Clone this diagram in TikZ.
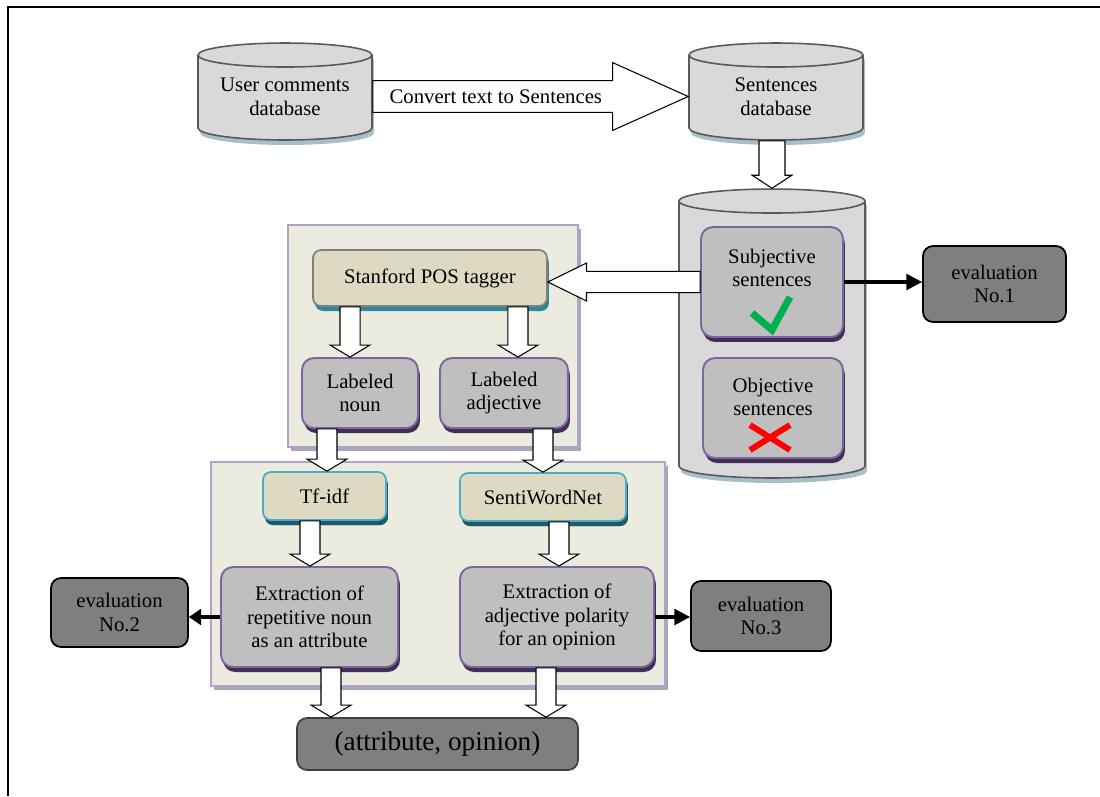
\documentclass[tikz,border=0pt]{standalone}
\usepackage{fontspec}
\setmainfont{Liberation Serif}
\usetikzlibrary{shapes.geometric,shadows,arrows.meta,calc}

\definecolor{dbfill}{HTML}{D9D9D9}
\definecolor{dbline}{HTML}{595959}
\definecolor{dbshadow}{HTML}{A6BFC8}
\definecolor{boxfill}{HTML}{BFBFBF}
\definecolor{boxline}{HTML}{8064A2}
\definecolor{boxshadow}{HTML}{403152}
\definecolor{evalfill}{HTML}{7F7F7F}
\definecolor{panelfill}{HTML}{EBEBE0}
\definecolor{panelline}{HTML}{B3A2C7}
\definecolor{panelshadow}{HTML}{ABA5BC}
\definecolor{tagfill}{HTML}{DDD9C3}
\definecolor{tagshadow}{HTML}{31859C}
\definecolor{toolline}{HTML}{4BACC6}
\definecolor{toolshadow}{HTML}{215968}
\definecolor{okgreen}{HTML}{00B050}
\definecolor{nored}{HTML}{FF0000}

\newcommand\mainsize{\fontsize{11.8}{13.5}\selectfont}

% hollow block arrow: from, to, half shaft, half head, head length
\newcommand\blockarrow[5]{%
  \coordinate (baS) at (#1);
  \coordinate (baT) at (#2);
  \coordinate (baH) at ($(baT)!#5!(baS)$);
  \filldraw[hollow] ($(baS)!#3!90:(baT)$) -- ($(baH)!#3!90:(baT)$)
    -- ($(baH)!#4!90:(baT)$) -- (baT) -- ($(baH)!#4!-90:(baT)$)
    -- ($(baH)!#3!-90:(baT)$) -- ($(baS)!#3!-90:(baT)$) -- cycle;}
% downward one, x taken from the source
\newcommand\blockdown[2]{%
  \coordinate (bdS) at (#1);
  \coordinate (bdT) at (bdS |- #2);
  \blockarrow{bdS}{bdT}{5.7pt}{11.3pt}{6.8pt}}

\tikzset{
  hollow/.style={draw=black, fill=white, line width=0.6pt},
  dbcyl/.style={cylinder, shape border rotate=90, anchor=shape center, draw=dbline,
    line width=0.9pt, fill=dbfill, inner ysep=0pt,
    drop shadow={shadow xshift=0.04cm, shadow yshift=-0.1cm, fill=dbshadow, opacity=1}},
  panel/.style={draw=panelline, line width=1pt, fill=panelfill, inner sep=0pt,
    drop shadow={shadow xshift=0.06cm, shadow yshift=-0.08cm, fill=panelshadow, opacity=1}},
  purplebox/.style={rectangle, rounded corners=0.24cm, draw=boxline, line width=1.1pt,
    fill=boxfill, align=center, font=\mainsize, inner sep=2pt,
    drop shadow={shadow xshift=0.04cm, shadow yshift=-0.1cm, fill=boxshadow, opacity=1}},
  tagbox/.style={rectangle, rounded corners=0.16cm, draw=gray, line width=1pt,
    fill=tagfill, align=center, font=\mainsize,
    drop shadow={shadow xshift=0.04cm, shadow yshift=-0.1cm, fill=tagshadow, opacity=1}},
  toolbox/.style={tagbox, draw=toolline,
    drop shadow={shadow xshift=0.04cm, shadow yshift=-0.1cm, fill=toolshadow, opacity=1}},
  evalbox/.style={rectangle, rounded corners=0.2cm, draw=black, line width=1pt,
    fill=evalfill, align=center, font=\mainsize},
  label text/.style={align=center, font=\mainsize},
  linkarrow/.style={line width=1.8pt, -{Triangle[length=9pt,width=9pt]}}
}

\begin{document}
\begin{tikzpicture}[x=0.02cm,y=-0.02cm]
\useasboundingbox (0,0) rectangle (1100,796);
\draw[line width=1.1pt] (8,796) -- (8,7) -- (1100,7);

% panels
\node[panel, minimum width=5.8cm, minimum height=4.44cm] (nPanelA) at (433,336) {};
\node[panel, minimum width=9.08cm, minimum height=4.48cm] (nPanelB) at (438,574) {};

% databases
\node[dbcyl, inner xsep=1.74cm, aspect=0.138, minimum height=1.94cm] (nUserDb) at (285,91.5) {};
\node[label text] (nUserDbTxt) at (285,96.5) {User comments\\database};
\node[dbcyl, inner xsep=1.74cm, aspect=0.138, minimum height=1.94cm] (nSentDb) at (776,91.5) {};
\node[label text] (nSentDbTxt) at (776,96.5) {Sentences\\database};
\node[dbcyl, inner xsep=1.86cm, aspect=0.129, minimum height=5.78cm] (nStore) at (772,333.5) {};

\node[purplebox, minimum width=2.84cm, minimum height=2.2cm] (nSubj) at (772,282) {};
\node[label text] (nSubjTxt) at ($(nSubj.center)+(0,-14)$) {Subjective\\sentences};
\node[purplebox, minimum width=2.8cm, minimum height=2.0cm] (nObj) at (773,408) {};
\node[label text] (nObjTxt) at ($(nObj.center)+(0,-11)$) {Objective\\sentences};
\node[evalbox, minimum width=2.86cm, minimum height=1.52cm] (nEval1) at (994.5,284) {evaluation\\No.1};

% tagging
\node[tagbox, minimum width=4.68cm, minimum height=1.12cm] (nStan) at (430,278) {Stanford POS tagger};
\node[purplebox, minimum width=2.32cm, minimum height=1.4cm] (nNoun) at (360,393) {Labeled\\noun};
\node[purplebox, minimum width=2.56cm, minimum height=1.4cm] (nAdj) at (504,393) {Labeled\\adjective};

% extraction
\node[toolbox, minimum width=2.46cm, minimum height=0.96cm] (nTfidf) at (324.5,496) {Tf-idf};
\node[toolbox, minimum width=3.32cm, minimum height=0.96cm] (nSenti) at (543,497) {SentiWordNet};
\node[purplebox, minimum width=3.54cm, minimum height=2.0cm] (nExtA) at (309.5,617) {Extraction of\\repetitive noun\\as an attribute};
\node[purplebox, minimum width=3.88cm, minimum height=2.0cm] (nExtB) at (557,617) {Extraction of\\adjective polarity\\for an opinion};
\node[evalbox, minimum width=2.74cm, minimum height=1.38cm] (nEval2) at (119.5,612.5) {evaluation\\No.2};
\node[evalbox, minimum width=2.8cm, minimum height=1.4cm] (nEval3) at (761,616) {evaluation\\No.3};
\node[evalbox, draw=black!75, minimum width=5.62cm, minimum height=1.04cm,
  font=\fontsize{15.5}{18}\selectfont] (nPair) at (437.5,744) {(attribute, opinion)};

% block arrows
\blockarrow{nUserDbTxt.center -| nUserDb.east}{nSentDbTxt.center -| nSentDb.west}{9pt}{19.3pt}{43pt}
\node[label text] (nConv) at ($(nUserDbTxt.center -| nUserDb.east)!0.39!(nSentDbTxt.center -| nSentDb.west)$) {Convert text to Sentences};
\blockarrow{nSentDb.south -| nStore.north}{nStore.north}{7.4pt}{11.3pt}{7.4pt}
\blockarrow{nSubj.west}{nStan.east |- nSubj.west}{6pt}{10.8pt}{22pt}
\blockdown{[xshift=-1.6cm]nStan.south}{nNoun.north}
\blockdown{[xshift=1.76cm]nStan.south}{nAdj.north}
\blockdown{[xshift=-0.66cm]nNoun.south}{nTfidf.north}
\blockdown{[xshift=0.78cm]nAdj.south}{nSenti.north}
\blockdown{[xshift=-0.29cm]nTfidf.south}{nExtA.north}
\blockdown{[xshift=0.32cm]nSenti.south}{nExtB.north}
\blockdown{[xshift=0.43cm]nExtA.south}{nPair.north}
\blockdown{[xshift=-0.22cm]nExtB.south}{nPair.north}

% evaluation links
\draw[linkarrow] (nSubj.east) -- (nEval1.west |- nSubj.east);
\draw[linkarrow, -{Triangle[length=7pt,width=9pt]}] (nExtA.west) -- (nEval2.east |- nExtA.west);
\draw[linkarrow] (nExtB.east) -- (nEval3.west |- nExtB.east);

% marks
\draw[okgreen, line width=4pt] ($(nSubj.center)+(-20,31)$) -- ($(nSubj.center)+(0,48)$) -- ($(nSubj.center)+(18,15)$);
\draw[nored, line width=3.4pt] ($(nObj.center)+(-23,17)$) -- ($(nObj.center)+(17,42)$);
\draw[nored, line width=3.4pt] ($(nObj.center)+(-23,42)$) -- ($(nObj.center)+(17,17)$);
\end{tikzpicture}
\end{document}
